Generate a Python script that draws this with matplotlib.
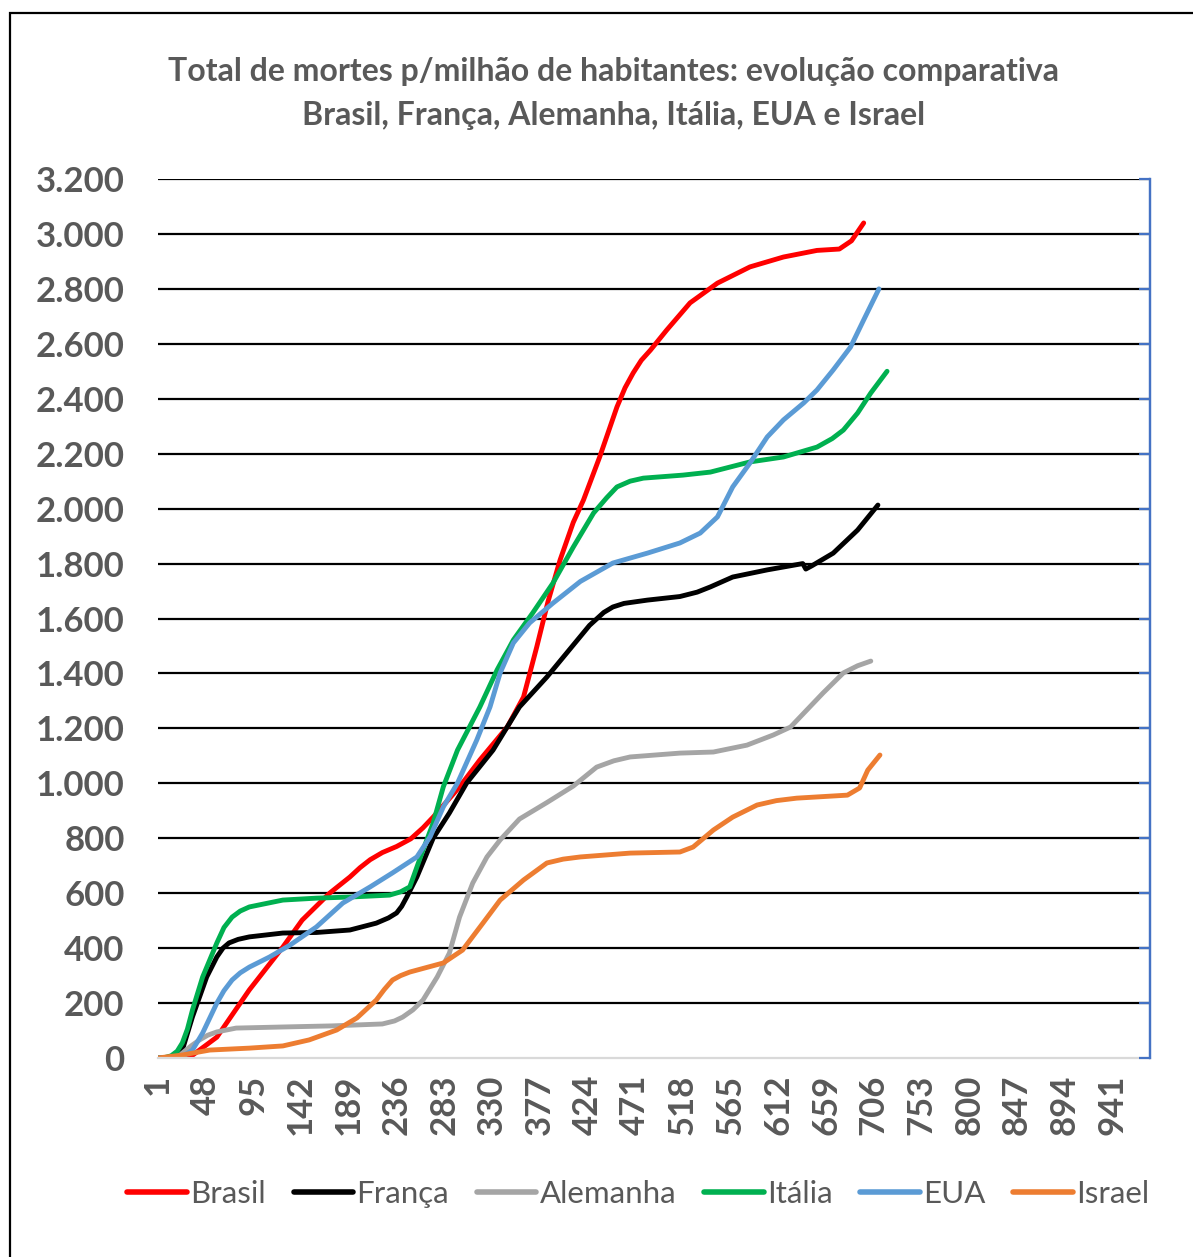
import matplotlib
matplotlib.use("Agg")
import matplotlib.pyplot as plt
from matplotlib.patches import Rectangle
from matplotlib.ticker import FuncFormatter

plt.rcParams['font.family'] = ['Lato', 'DejaVu Sans']

# dias (eixo de categorias) e mortes por milhão
brasil_dias = [1, 17, 35, 59, 91, 124, 143, 170, 190, 200, 210, 222, 236, 250, 262, 272,
               298, 318, 345, 361, 374, 385, 397, 410, 420, 436, 453, 461, 469, 477, 486,
               502, 525, 552, 584, 617, 650, 672, 684, 696]
brasil = [0, 0, 10, 76, 248, 404, 502, 600, 659, 693, 722, 748, 770, 798, 838, 877, 987,
          1085, 1205, 1314, 1496, 1660, 1813, 1950, 2031, 2188, 2370, 2440, 2494, 2540,
          2577, 2650, 2749, 2821, 2880, 2916, 2940, 2945, 2975, 3040]

franca_dias = [1, 20, 25, 35, 49, 59, 65, 71, 80, 91, 124, 157, 190, 216, 228, 236, 241,
               246, 256, 272, 288, 305, 331, 357, 384, 407, 426, 440, 449, 460, 483, 515,
               532, 545, 567, 601, 636, 639, 645, 666, 690, 710]
franca = [0, 2, 29, 150, 295, 368, 400, 419, 432, 441, 455, 457, 466, 491, 510, 528, 552,
          586, 659, 800, 892, 1001, 1121, 1278, 1387, 1490, 1575, 1622, 1642, 1655, 1667,
          1680, 1696, 1715, 1751, 1777, 1800, 1780, 1792, 1838, 1922, 2013]

alemanha_dias = [1, 20, 25, 34, 42, 50, 59, 78, 124, 173, 222, 234, 242, 252, 262, 276,
                 288, 298, 311, 325, 338, 357, 384, 410, 433, 450, 466, 515, 548, 581, 607,
                 624, 640, 656, 676, 690, 703]
alemanha = [0, 3, 18, 45, 66, 83, 95, 109, 113, 117, 124, 135, 149, 175, 211, 295, 382,
            513, 637, 732, 794, 870, 930, 990, 1059, 1082, 1096, 1110, 1114, 1139, 1176,
            1205, 1267, 1329, 1402, 1428, 1445]

italia_dias = [1, 8, 14, 20, 25, 30, 35, 45, 59, 66, 74, 82, 91, 124, 157, 190, 229, 240,
               249, 262, 272, 282, 296, 318, 335, 351, 370, 390, 410, 430, 443, 453, 466,
               479, 518, 545, 584, 617, 650, 665, 676, 690, 703, 719]
italia = [0, 2, 8, 25, 55, 105, 175, 295, 419, 475, 513, 535, 550, 575, 582, 586, 593,
          605, 623, 757, 855, 987, 1121, 1278, 1413, 1522, 1620, 1729, 1860, 1984, 2040,
          2079, 2100, 2111, 2122, 2133, 2170, 2188, 2224, 2255, 2286, 2348, 2421, 2500]

eua_dias = [1, 25, 35, 45, 59, 66, 74, 82, 91, 111, 131, 157, 183, 210, 232, 256, 269, 282,
            296, 315, 328, 338, 351, 367, 390, 417, 449, 483, 515, 535, 552, 567, 584, 601,
            617, 637, 650, 666, 683, 696, 711]
eua = [0, 5, 29, 91, 200, 245, 284, 310, 331, 368, 411, 477, 564, 623, 674, 732, 805, 914,
       1001, 1158, 1278, 1402, 1511, 1584, 1656, 1735, 1802, 1838, 1875, 1911, 1970, 2079,
       2166, 2261, 2323, 2385, 2432, 2505, 2588, 2687, 2800]

israel_dias = [1, 25, 52, 91, 124, 150, 177, 197, 216, 224, 232, 240, 249, 282, 301, 321,
               338, 361, 384, 400, 417, 466, 515, 528, 548, 567, 591, 610, 630, 680, 692,
               700, 712]
israel = [0, 11, 29, 36, 44, 66, 102, 146, 211, 250, 284, 300, 313, 346, 393, 491, 575,
          648, 710, 724, 732, 746, 750, 768, 830, 877, 921, 937, 946, 957, 983, 1048, 1103]

series = [
    ("Brasil", brasil_dias, brasil, "#FF0000"),
    ("França", franca_dias, franca, "#000000"),
    ("Alemanha", alemanha_dias, alemanha, "#A5A5A5"),
    ("Itália", italia_dias, italia, "#00B050"),
    ("EUA", eua_dias, eua, "#5B9BD5"),
    ("Israel", israel_dias, israel, "#ED7D31"),
]

x_ticks = list(range(1, 942, 47))
y_ticks = list(range(0, 3201, 200))

TEXT = "#595959"

fig = plt.figure(figsize=(11.93, 12.57), dpi=100)
ax = fig.add_axes([0.1324, 0.1583, 0.8316, 0.6993])

for name, dias, vals, color in series:
    ax.plot(dias, vals, color=color, lw=3.5, label=name,
            solid_capstyle="round", solid_joinstyle="round")

ax.set_xlim(1, 978)
ax.set_ylim(0, 3200)

for y in y_ticks[1:]:
    ax.axhline(y, color="black", lw=1.6, zorder=0)

ax.set_yticks(y_ticks)
ax.yaxis.set_major_formatter(FuncFormatter(lambda v, p: f"{int(v):,}".replace(",", ".")))
ax.set_xticks(x_ticks)
ax.set_xticklabels([str(t) for t in x_ticks], rotation=90)

ax.tick_params(axis="y", length=0, pad=24, labelsize=25, labelcolor=TEXT)
ax.tick_params(axis="x", length=0, pad=12, labelsize=25, labelcolor=TEXT)
for lab in ax.get_xticklabels() + ax.get_yticklabels():
    lab.set_fontweight("bold")

ax.spines["top"].set_visible(False)
ax.spines["left"].set_visible(False)
ax.spines["bottom"].set_color("#D9D9D9")
ax.spines["bottom"].set_linewidth(1.6)
ax.spines["right"].set_color("#4472C4")
ax.spines["right"].set_linewidth(1.6)

# eixo secundário azul à direita (só marcas)
ax2 = ax.twinx()
ax2.set_ylim(0, 3200)
ax2.set_yticks(y_ticks)
ax2.tick_params(axis="y", direction="in", length=8, width=1.6, color="#4472C4",
                labelright=False)
for s in ["top", "left", "bottom"]:
    ax2.spines[s].set_visible(False)
ax2.spines["right"].set_color("#4472C4")
ax2.spines["right"].set_linewidth(1.6)

fig.text(0.514, 1 - 72 / 1257, "Total de mortes p/milhão de habitantes: evolução comparativa",
         ha="center", va="center", fontsize=23, fontweight="bold", color=TEXT)
fig.text(0.514, 1 - 115 / 1257, "Brasil, França, Alemanha, Itália, EUA e Israel",
         ha="center", va="center", fontsize=23, fontweight="bold", color=TEXT)

leg = fig.legend(loc="center", bbox_to_anchor=(0.535, 1 - 1194 / 1257), ncol=6,
                 frameon=False, fontsize=22.5, handlelength=1.9, handletextpad=0.1,
                 columnspacing=0.9, labelcolor=TEXT)
for h in leg.get_lines():
    h.set_linewidth(4.0)

# moldura do gráfico
fig.patches.append(Rectangle((10 / 1193, -0.05), 1.2, 1.05 - 13 / 1257,
                             transform=fig.transFigure, fill=False,
                             edgecolor="black", lw=1.6))

fig.savefig("out.png", dpi=100)
